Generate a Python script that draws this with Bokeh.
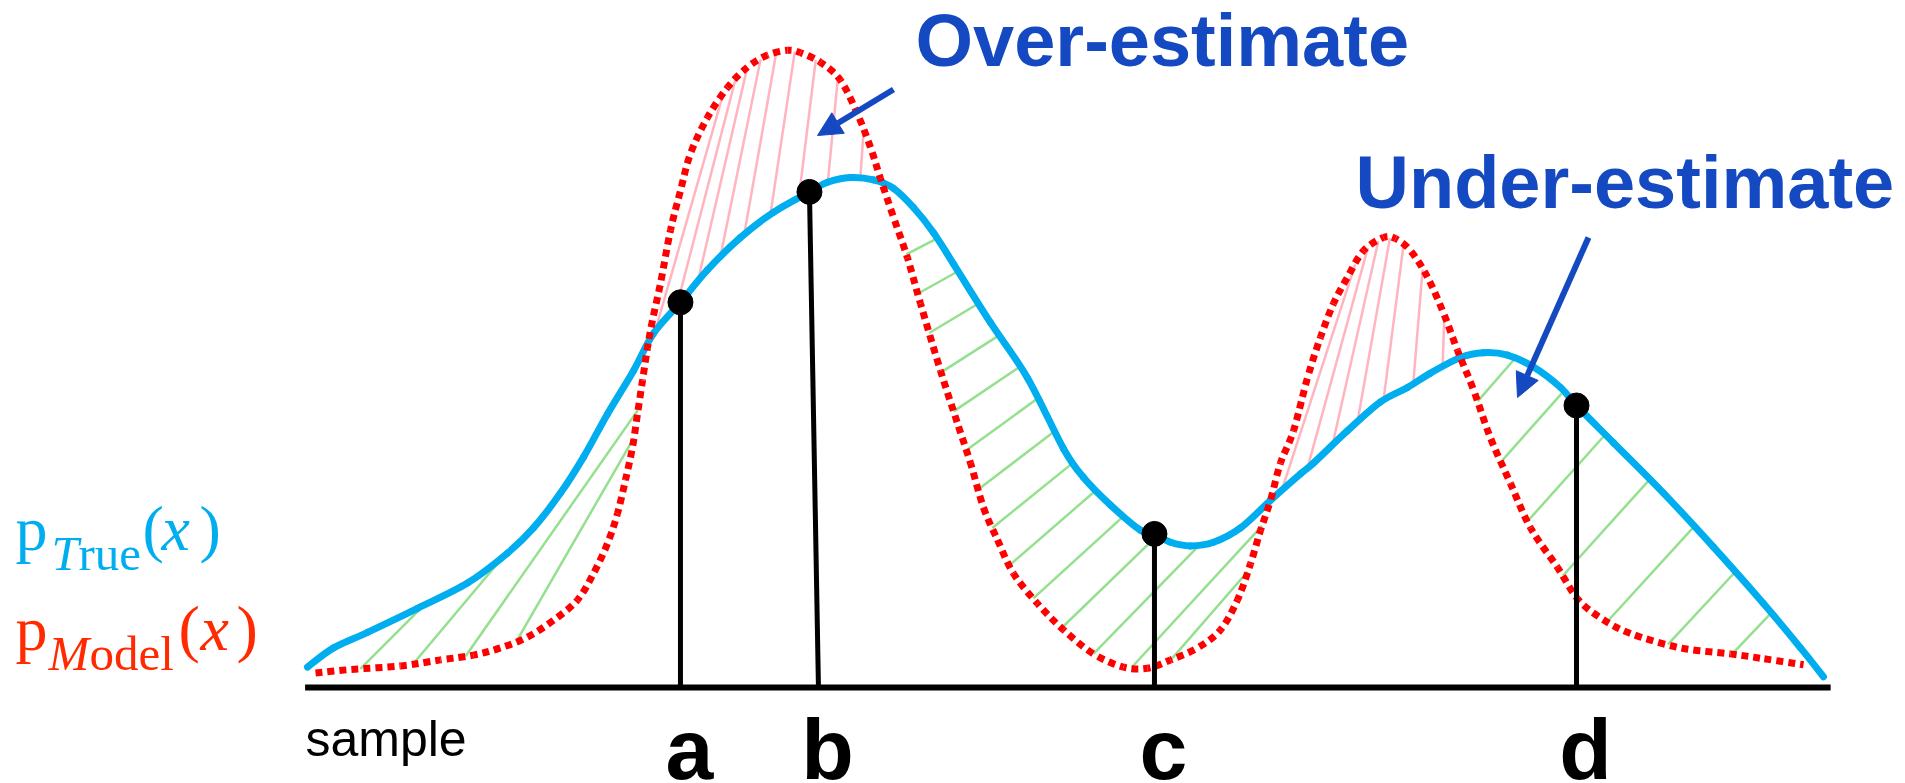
import numpy as np
from bokeh.plotting import figure
from bokeh.models import Range1d, Label, Arrow, NormalHead
from bokeh.embed import file_html
from bokeh.resources import INLINE

# ---- data -------------------------------------------------------------
# true density p_True(x) along the sample axis
true_x = [0.25, 2.42, 5.25, 9.42, 13.58, 16.92, 19.08, 21.33, 23.25, 25.25,
          27.42, 29.08, 31.33, 33.58, 36.33, 39.08, 42.08, 43.58, 45.5, 47.42,
          49.08, 50.75, 52.42, 54.08, 57.17, 60.25, 63.25, 64.92, 67.17, 69.67,
          70.83, 72.17, 73.83, 75.75, 78.0, 80.5, 83.0, 84.08, 86.92, 89.67,
          91.92, 93.83, 96.33, 98.25, 100.25, 102.42, 104.67, 106.0, 109.08, 113.25,
          117.42, 121.58, 124.67, 126.58]
true_p = [0.17, 0.33, 0.46, 0.66, 0.87, 1.12, 1.33, 1.62, 1.92, 2.28,
          2.64, 2.95, 3.21, 3.48, 3.75, 3.96, 4.13, 4.21, 4.25, 4.23,
          4.16, 4.0, 3.79, 3.53, 3.04, 2.58, 1.99, 1.75, 1.52, 1.31,
          1.28, 1.21, 1.18, 1.21, 1.33, 1.56, 1.78, 1.87, 2.14, 2.38,
          2.5, 2.62, 2.75, 2.79, 2.77, 2.67, 2.5, 2.35, 2.04, 1.62,
          1.17, 0.7, 0.33, 0.09]

# model density p_Model(x)
model_x = [0.92, 3.83, 8.0, 11.33, 14.08, 16.33, 18.58, 20.75, 22.75, 24.08,
           25.25, 26.08, 26.75, 27.33, 27.75, 28.17, 28.58, 29.0, 29.67, 30.5,
           31.33, 32.17, 33.58, 35.25, 36.92, 38.58, 40.25, 41.33, 43.0, 44.67,
           46.08, 47.17, 48.0, 49.08, 50.25, 51.33, 53.0, 54.42, 55.5, 56.58,
           57.75, 59.08, 61.08, 63.25, 65.75, 68.25, 70.25, 72.17, 74.42, 76.33,
           77.75, 78.83, 79.67, 80.5, 81.33, 82.42, 83.58, 84.67, 85.75, 86.92,
           88.25, 89.92, 90.92, 92.17, 93.58, 94.92, 96.08, 97.42, 98.83, 100.5,
           102.17, 104.42, 106.08, 108.0, 110.5, 114.67, 118.83, 121.58, 124.92]
model_p = [0.12, 0.15, 0.18, 0.23, 0.27, 0.33, 0.42, 0.56, 0.73, 0.95,
           1.2, 1.45, 1.73, 2.0, 2.28, 2.56, 2.83, 3.06, 3.37, 3.81,
           4.14, 4.45, 4.75, 5.0, 5.17, 5.27, 5.31, 5.29, 5.21, 5.06,
           4.78, 4.5, 4.24, 3.92, 3.58, 3.2, 2.64, 2.2, 1.87, 1.5,
           1.23, 0.95, 0.7, 0.48, 0.28, 0.17, 0.16, 0.23, 0.33, 0.48,
           0.73, 1.03, 1.31, 1.56, 1.87, 2.14, 2.58, 2.92, 3.2, 3.42,
           3.64, 3.75, 3.74, 3.64, 3.42, 3.12, 2.81, 2.48, 2.08, 1.7,
           1.33, 1.0, 0.74, 0.58, 0.45, 0.33, 0.28, 0.24, 0.19]

# drawn samples
sample_names = ["a", "b", "c", "d"]
sample_x = [31.33, 42.08, 70.83, 106.0]
sample_p = [3.21, 4.13, 1.28, 2.35]
stem_base_x = [31.33, 42.83, 70.83, 106.0]

# ---- styling ----------------------------------------------------------
W, H = 1905, 783
SX, SY = 12.0, 120.0            # screen pixels per unit on x and on density
TRUE_C = "#00AEEF"
MODEL_C = "#FF0000"
MODEL_TXT = "#FF2A00"
NOTE_C = "#1449C1"
GREEN = "#95E08F"
PINK = "#FFB5C0"
DOT_ON, DOT_OFF = 7, 5

p = figure(width=W, height=H,
           x_range=Range1d(-304 / SX, (W - 304) / SX),
           y_range=Range1d(-(H - 687) / SY, 687 / SY),
           x_axis_type=None, y_axis_type=None,
           output_backend="svg", toolbar_location=None, min_border=0)
p.grid.visible = False
p.outline_line_color = None
p.background_fill_color = "white"
p.border_fill_color = "white"


def f_true(x):
    return np.interp(x, true_x, true_p)


def f_model(x):
    return np.interp(x, model_x, model_p)


# ---- hatching between the two densities -------------------------------
grid = np.linspace(max(true_x[0], model_x[0]), min(true_x[-1], model_x[-1]), 8000)
above = (f_model(grid) - f_true(grid)) > 0
flips = np.where(above[:-1] != above[1:])[0]
edges = [grid[0]] + [0.5 * (grid[i] + grid[i + 1]) for i in flips] + [grid[-1]]

# per region: colour, first offset / spacing along the lower curve (px), count, angles
hatch_style = [
    (GREEN, 45, 53, 4, 45, 60),
    (PINK, 13, 33, 9, 74, 86),
    (GREEN, 75, 41, 14, 28, 49),
    (PINK, 15, 34, 7, 72, 88),
    (GREEN, 47, 65, 7, 49, 47),
]


def hatch_segments(lower, upper, xa, xb, first, step, n, a0, a1):
    xs = np.linspace(xa, xb, 3000)
    ys = lower(xs)
    arc = np.concatenate([[0.0], np.cumsum(np.hypot(np.diff(xs) * SX, np.diff(ys) * SY))])
    segs = []
    for k in range(n):
        s = first + k * step
        if s >= arc[-1]:
            break
        x0 = float(np.interp(s, arc, xs))
        y0 = float(lower(x0))
        ang = np.radians(a0 + (a1 - a0) * (k / (n - 1) if n > 1 else 0.0))
        dx, dy = np.cos(ang) / SX, np.sin(ang) / SY
        x1, y1 = x0, y0
        for t in np.arange(0.5, 1500.0, 0.5):
            xt, yt = x0 + t * dx, y0 + t * dy
            if xt > xb or xt < xa:
                break
            if yt >= upper(xt):
                x1, y1 = xt, float(upper(xt))
                break
            if t > 4 and yt <= lower(xt):
                break
            x1, y1 = xt, yt
        if abs(x1 - x0) * SX + abs(y1 - y0) * SY > 4:
            segs.append((x0, y0, x1, y1))
    return segs


for (xa, xb), style in zip(zip(edges[:-1], edges[1:]), hatch_style):
    color, first, step, n, a0, a1 = style
    mid = 0.5 * (xa + xb)
    if f_model(mid) > f_true(mid):
        lower, upper = f_true, f_model
    else:
        lower, upper = f_model, f_true
    segs = hatch_segments(lower, upper, xa, xb, first, step, n, a0, a1)
    if segs:
        sx0, sy0, sx1, sy1 = map(list, zip(*segs))
        p.segment(x0=sx0, y0=sy0, x1=sx1, y1=sy1, line_color=color, line_width=2.5)


# ---- curves: Catmull-Rom through the points, drawn as Bezier pieces ----
def bezier_pieces(xs, ys):
    P = np.column_stack([np.asarray(xs) * SX, np.asarray(ys) * SY])
    Q = np.vstack([P[0], P, P[-1]])
    pieces = []
    for i in range(len(P) - 1):
        p0, p1, p2, p3 = Q[i], Q[i + 1], Q[i + 2], Q[i + 3]
        c1 = p1 + (p2 - p0) / 6.0
        c2 = p2 - (p3 - p1) / 6.0
        pieces.append((p1, c1, c2, p2))
    return pieces


def piece_length(piece):
    a, b, c, d = piece
    t = np.linspace(0, 1, 25)[:, None]
    pts = ((1 - t) ** 3) * a + 3 * ((1 - t) ** 2) * t * b + 3 * (1 - t) * t * t * c + t ** 3 * d
    return float(np.sum(np.hypot(*np.diff(pts, axis=0).T)))


def piece_cols(pieces):
    cols = {k: [] for k in ("x0", "y0", "cx0", "cy0", "cx1", "cy1", "x1", "y1")}
    for a, b, c, d in pieces:
        cols["x0"].append(a[0] / SX); cols["y0"].append(a[1] / SY)
        cols["cx0"].append(b[0] / SX); cols["cy0"].append(b[1] / SY)
        cols["cx1"].append(c[0] / SX); cols["cy1"].append(c[1] / SY)
        cols["x1"].append(d[0] / SX); cols["y1"].append(d[1] / SY)
    return cols


# true density: one solid glyph
p.bezier(**piece_cols(bezier_pieces(true_x, true_p)), line_color=TRUE_C,
         line_width=7, line_cap="round")

# model density: dotted, with the dash phase carried from piece to piece
travelled = 0.0
for piece in bezier_pieces(model_x, model_p):
    p.bezier(**piece_cols([piece]), line_color=MODEL_C, line_width=7,
             line_dash=f"{DOT_ON} {DOT_OFF}",
             line_dash_offset=int(round(travelled)) % (DOT_ON + DOT_OFF),
             line_cap="butt")
    travelled += piece_length(piece)

# sample axis
p.segment(x0=[true_x[0] - 0.2], y0=[0], x1=[true_x[-1] + 0.6], y1=[0],
          line_color="black", line_width=6)

# sample stems and points
p.segment(x0=stem_base_x, y0=[0] * len(sample_x), x1=sample_x, y1=sample_p,
          line_color="black", line_width=5)
p.scatter(sample_x, sample_p, size=25, fill_color="black", line_color="black")

# ---- annotations --------------------------------------------------------
p.add_layout(Arrow(end=NormalHead(size=24, fill_color=NOTE_C, line_color=NOTE_C),
                   x_start=893, y_start=H - 89, x_end=817, y_end=H - 135,
                   start_units="screen", end_units="screen",
                   line_color=NOTE_C, line_width=6))
p.add_layout(Arrow(end=NormalHead(size=24, fill_color=NOTE_C, line_color=NOTE_C),
                   x_start=1588, y_start=H - 237, x_end=1517, y_end=H - 397,
                   start_units="screen", end_units="screen",
                   line_color=NOTE_C, line_width=6))

SANS, SERIF = "Liberation Sans", "Liberation Serif"
BASE_SHIFT = {SANS: 0.34, SERIF: 0.30}   # text-box baseline correction, in em


def label(text, x, base_y, size, color, font=SANS, style="normal",
          align="left", x_units="screen", x_offset=0):
    y = H - base_y + BASE_SHIFT[font] * size
    p.add_layout(Label(x=x, y=y, x_units=x_units, y_units="screen", text=text,
                       x_offset=x_offset, text_font=font, text_font_style=style,
                       text_font_size=f"{size}px", text_color=color,
                       text_align=align, text_baseline="alphabetic"))


label("Over-estimate", 915, 65, 74, NOTE_C, style="bold")
label("Under-estimate", 1355, 207, 74, NOTE_C, style="bold")
label("sample", 305, 755, 50, "black")

for name, bx in zip(sample_names, stem_base_x):
    label(name, bx, 778, 86, "black", style="bold", align="center",
          x_units="data", x_offset=9)

# legend: p_True(x) and p_Model(x)
for color, sub_first, sub_rest, y_base, pos in [
        (TRUE_C, "T", "rue", 547, (15, 51, 78, 142, 161, 199)),
        (MODEL_TXT, "M", "odel", 647, (15, 48, 89, 178, 200, 236))]:
    px_, pf, pr, po, pxv, pc = pos
    label("p", px_, y_base, 64, color, font=SERIF)
    label(sub_first, pf, y_base + 21, 49, color, font=SERIF, style="italic")
    label(sub_rest, pr, y_base + 21, 49, color, font=SERIF)
    label("(", po, y_base, 64, color, font=SERIF)
    label("x", pxv, y_base, 64, color, font=SERIF, style="italic")
    label(")", pc, y_base, 64, color, font=SERIF)

open("out.html", "w").write(file_html(p, INLINE))
